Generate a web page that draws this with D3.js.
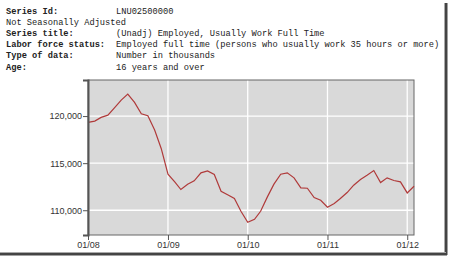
<!DOCTYPE html>
<html>
<head>
<meta charset="utf-8">
<style>
body { margin: 0; background: #fff; }
svg text { font-family: "Liberation Sans", Arial, sans-serif; }
.hdr text { font-family: "Liberation Mono", "Courier New", monospace; font-size: 8.7px; fill: #222; }
.hdr .lbl { font-weight: bold; }
.axis text { font-size: 9px; fill: #333; }
.axis line, .axis path { stroke: #555; }
</style>
</head>
<body>
<svg width="450" height="257"></svg>
<script src="https://cdn.jsdelivr.net/npm/d3@7"></script>
<script>

// header rows: label / value
var headerLabels = ["Series Id:", "Not Seasonally Adjusted", "Series title:", "Labor force status:", "Type of data:", "Age:"];
var headerValues = ["LNU02500000", "", "(Unadj) Employed, Usually Work Full Time",
  "Employed full time (persons who usually work 35 hours or more)", "Number in thousands", "16 years and over"];

// monthly values Jan 2008 .. Feb 2012 (thousands)
var startMonth = "2008-01";
var values = [
  119330, 119470, 119860, 120100, 120880, 121700, 122340, 121460, 120250, 120030, 118510, 116560,
  113830, 113010, 112200, 112770, 113120, 113970, 114180, 113800, 112020, 111650, 111250, 109890,
  108720, 109040, 109890, 111420, 112770, 113830, 113970, 113440, 112370, 112340, 111350, 111060,
  110320, 110710, 111240, 111880, 112660, 113260, 113720, 114220, 112940, 113440, 113160, 113010,
  111840, 112550
];
var yTicks = [110000, 115000, 120000];
var xTickLabels = ["01/08", "01/09", "01/10", "01/11", "01/12"];

var svg = d3.select("svg");

// outer frame shadow (right and bottom)
svg.append("rect").attr("x", 444).attr("y", 3).attr("width", 1).attr("height", 251).attr("fill", "#aaa");
svg.append("rect").attr("x", 445).attr("y", 3).attr("width", 2.5).attr("height", 252).attr("fill", "#444");
svg.append("rect").attr("x", 0).attr("y", 252).attr("width", 446).attr("height", 1).attr("fill", "#aaa");
svg.append("rect").attr("x", 0).attr("y", 253).attr("width", 447).attr("height", 2.5).attr("fill", "#444");

// header
var hdr = svg.append("g").attr("class", "hdr");
headerLabels.forEach(function(l, i) {
  var yy = 14 + i * 11.1;
  hdr.append("text").attr("class", i === 1 ? "" : "lbl").attr("x", 6).attr("y", yy).text(l);
  if (headerValues[i]) hdr.append("text").attr("x", 116).attr("y", yy).text(headerValues[i]);
});

// chart
var parse = d3.timeParse("%Y-%m");
var t0 = parse(startMonth);
var data = values.map(function(v, i) { return { date: d3.timeMonth.offset(t0, i), v: v }; });

var pLeft = 88, pRight = 414, pTop = 80, pBottom = 235;

var x = d3.scaleTime()
    .domain([t0, data[data.length - 1].date])
    .range([pLeft, pRight]);

var y = d3.scaleLinear()
    .domain([107372, 123830])
    .range([pBottom, pTop]);

var xTicks = xTickLabels.map(function(s) { return d3.timeParse("%m/%y")(s); });

svg.append("rect")
    .attr("x", pLeft).attr("y", pTop)
    .attr("width", pRight - pLeft).attr("height", pBottom - pTop)
    .attr("fill", "#d9d9d9");

// gridlines
svg.append("g").selectAll("line").data(yTicks).enter().append("line")
    .attr("x1", pLeft).attr("x2", pRight)
    .attr("y1", function(d) { return y(d); }).attr("y2", function(d) { return y(d); })
    .attr("stroke", "#fff").attr("stroke-width", 1.3);

svg.append("g").selectAll("line").data(xTicks.slice(1)).enter().append("line")
    .attr("x1", function(d) { return x(d); }).attr("x2", function(d) { return x(d); })
    .attr("y1", pTop).attr("y2", pBottom)
    .attr("stroke", "#fff").attr("stroke-width", 1.3);

// plot border
svg.append("rect")
    .attr("x", pLeft).attr("y", pTop)
    .attr("width", pRight - pLeft).attr("height", pBottom - pTop)
    .attr("fill", "none").attr("stroke", "#666").attr("stroke-width", 1);

// line
svg.append("path")
    .datum(data)
    .attr("fill", "none")
    .attr("stroke", "#b03a3a")
    .attr("stroke-width", 1.2)
    .attr("d", d3.line().x(function(d) { return x(d.date); }).y(function(d) { return y(d.v); }));

// axes
svg.append("g").attr("class", "axis")
    .attr("transform", "translate(" + pLeft + ",0)")
    .call(d3.axisLeft(y).tickValues(yTicks).tickSize(5).tickPadding(1).tickFormat(d3.format(",")))
    .call(function(g) { g.select(".domain").attr("stroke", "#666").attr("stroke-width", 2); });

svg.append("g").attr("class", "axis")
    .attr("transform", "translate(0," + pBottom + ")")
    .call(d3.axisBottom(x).tickValues(xTicks).tickSize(5).tickPadding(2).tickFormat(d3.timeFormat("%m/%y")))
    .call(function(g) { g.select(".domain").remove(); });

</script>
</body>
</html>
